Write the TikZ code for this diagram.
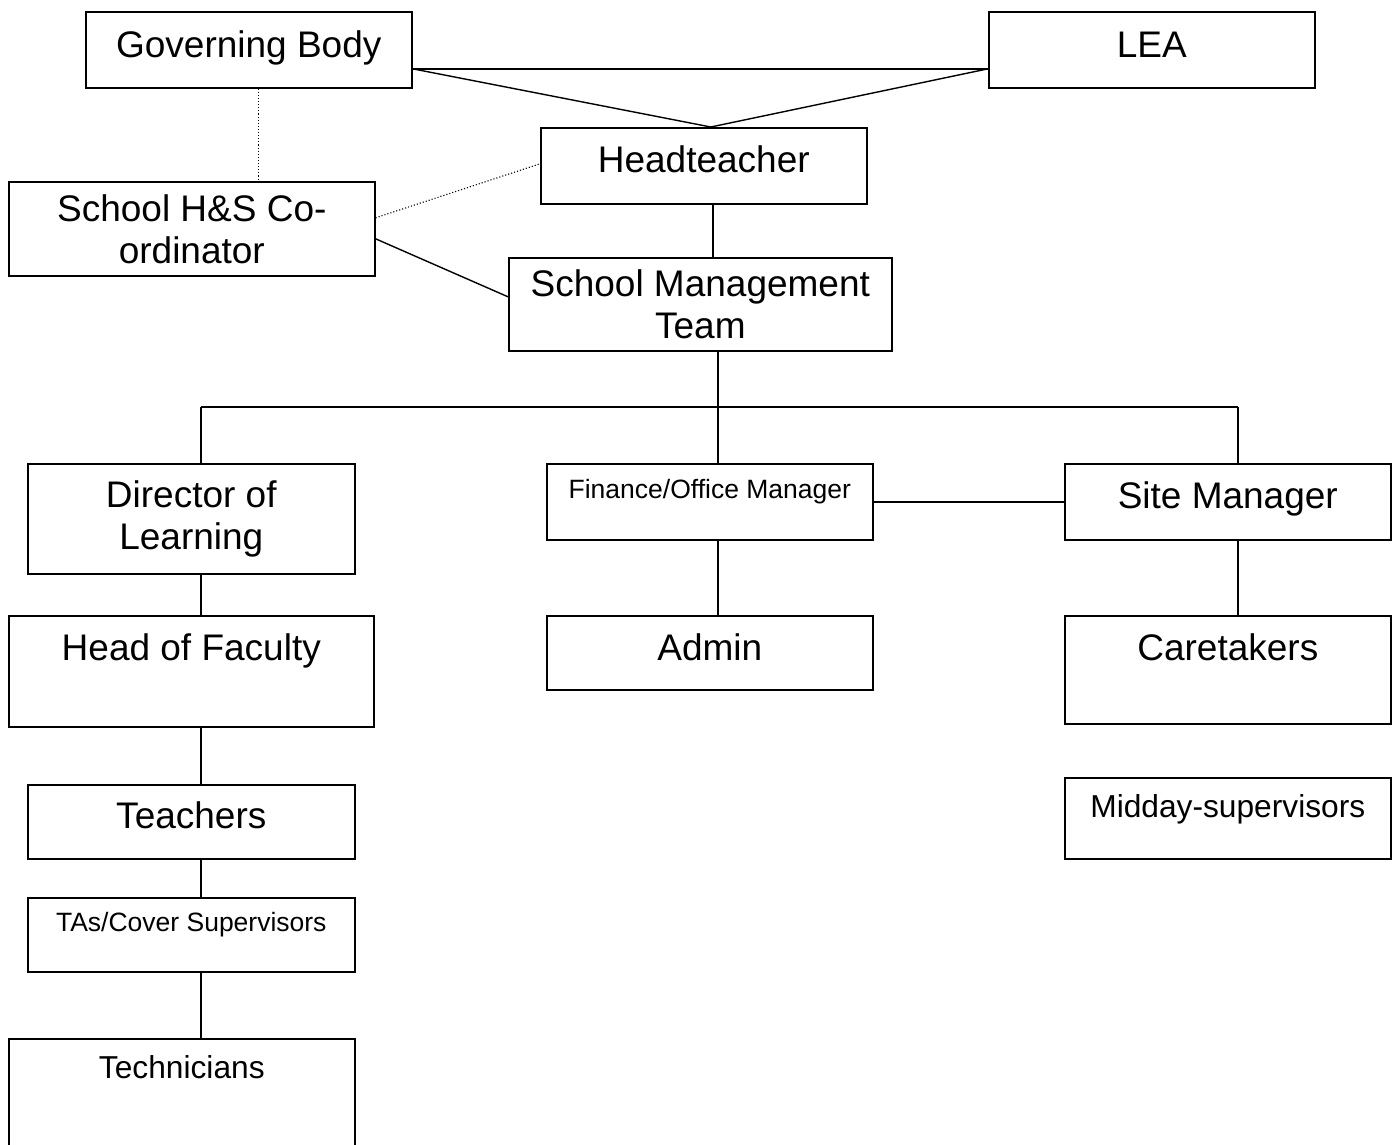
\documentclass[tikz,border=0pt]{standalone}
\usepackage{fontspec}
\setmainfont{Liberation Sans}
\usepackage{tikz}
\usetikzlibrary{positioning}

\tikzset{
    box/.style={draw, line width=1.6pt, inner sep=0pt, anchor=north west, align=center},
    big/.style={font=\fontsize{37}{42}\selectfont},
    mid/.style={font=\fontsize{31.7}{36}\selectfont},
    small/.style={font=\fontsize{26.5}{30}\selectfont},
    link/.style={line width=1.4pt},
    dots/.style={line width=1.1pt, dotted}
}

\begin{document}
\begin{tikzpicture}[x=1pt, y=-1pt]
                    \clip (0,0) rectangle (1399,1144);

                    \node[box, big, minimum width=326pt, text height=46pt, text depth=30pt] (gb) at (85,11) {Governing Body};
                    \node[box, big, minimum width=326pt, text height=46pt, text depth=30pt] (lea) at (988,11) {LEA};
                    \node[box, big, minimum width=326pt, text height=45pt, text depth=31pt] (head) at (540,127) {Headteacher};
                    \node[box, big, minimum width=366pt, minimum height=94pt] (hs) at (8,181) {School H\&S Co-\\ordinator};
                    \node[box, big, minimum width=383pt, minimum height=93pt] (smt) at (508,257) {School Management\\Team};

                    \coordinate (busl) at (201,407);
                    \coordinate (busm) at (718,407);
                    \coordinate (busr) at (1238,407);

                    \node[box, big, minimum width=327pt, minimum height=110pt] (dol) at (27,463) {Director of\\Learning};
                    \node[box, small, minimum width=326pt, text height=35pt, text depth=41pt] (fom) at (546,463) {Finance/Office Manager};
                    \node[box, big, minimum width=326pt, text height=45pt, text depth=31pt] (site) at (1064,463) {Site Manager};
                    \node[box, big, minimum width=365pt, text height=45pt, text depth=66pt] (hof) at (8,615) {Head of Faculty};
                    \node[box, big, minimum width=326pt, text height=45pt, text depth=29pt] (admin) at (546,615) {Admin};
                    \node[box, big, minimum width=326pt, text height=45pt, text depth=63pt] (care) at (1064,615) {Caretakers};
                    \node[box, big, minimum width=327pt, text height=44pt, text depth=30pt] (teach) at (27,784) {Teachers};
                    \node[box, mid, minimum width=326pt, text height=40pt, text depth=41pt] (midday) at (1064,777) {Midday-supervisors};
                    \node[box, small, minimum width=327pt, text height=34pt, text depth=40pt] (tas) at (27,897) {TAs/Cover Supervisors};
                    \node[box, mid, minimum width=346pt, text height=40pt, text depth=110pt] (tech) at (8,1038) {Technicians};

                    \draw[link] ([yshift=-19pt]gb.east) -- ([yshift=-19pt]lea.west);
                    \draw[link] ([yshift=-19pt]gb.east) -- ([xshift=7pt]head.north);
                    \draw[link] ([yshift=-19pt]lea.west) -- ([xshift=7pt]head.north);
                    \draw[dots] ([xshift=10pt]gb.south) -- ([xshift=10pt]gb.south |- hs.north);
                    \draw[dots] ([yshift=11pt]hs.east) -- ([yshift=2pt]head.west);
                    \draw[link] ([yshift=-10pt]hs.east) -- ([yshift=7.5pt]smt.west);
                    \draw[link] ([xshift=9pt]head.south) -- ([xshift=9pt]head.south |- smt.north);
                    \draw[link] (busm |- smt.south) -- (busm);
                    \draw[link] (busl) -- (busr);
                    \draw[link] (busl) -- (busl |- dol.north);
                    \draw[link] (busm) -- (busm |- fom.north);
                    \draw[link] (busr) -- (busr |- site.north);
                    \draw[link] (fom.east) -- (site.west);
                    \draw[link] (busm |- fom.south) -- (busm |- admin.north);
                    \draw[link] (busr |- site.south) -- (busr |- care.north);
                    \draw[link] (busl |- dol.south) -- (busl |- hof.north);
                    \draw[link] (busl |- hof.south) -- (busl |- teach.north);
                    \draw[link] (busl |- teach.south) -- (busl |- tas.north);
                    \draw[link] (busl |- tas.south) -- (busl |- tech.north);
                \end{tikzpicture}
\end{document}
